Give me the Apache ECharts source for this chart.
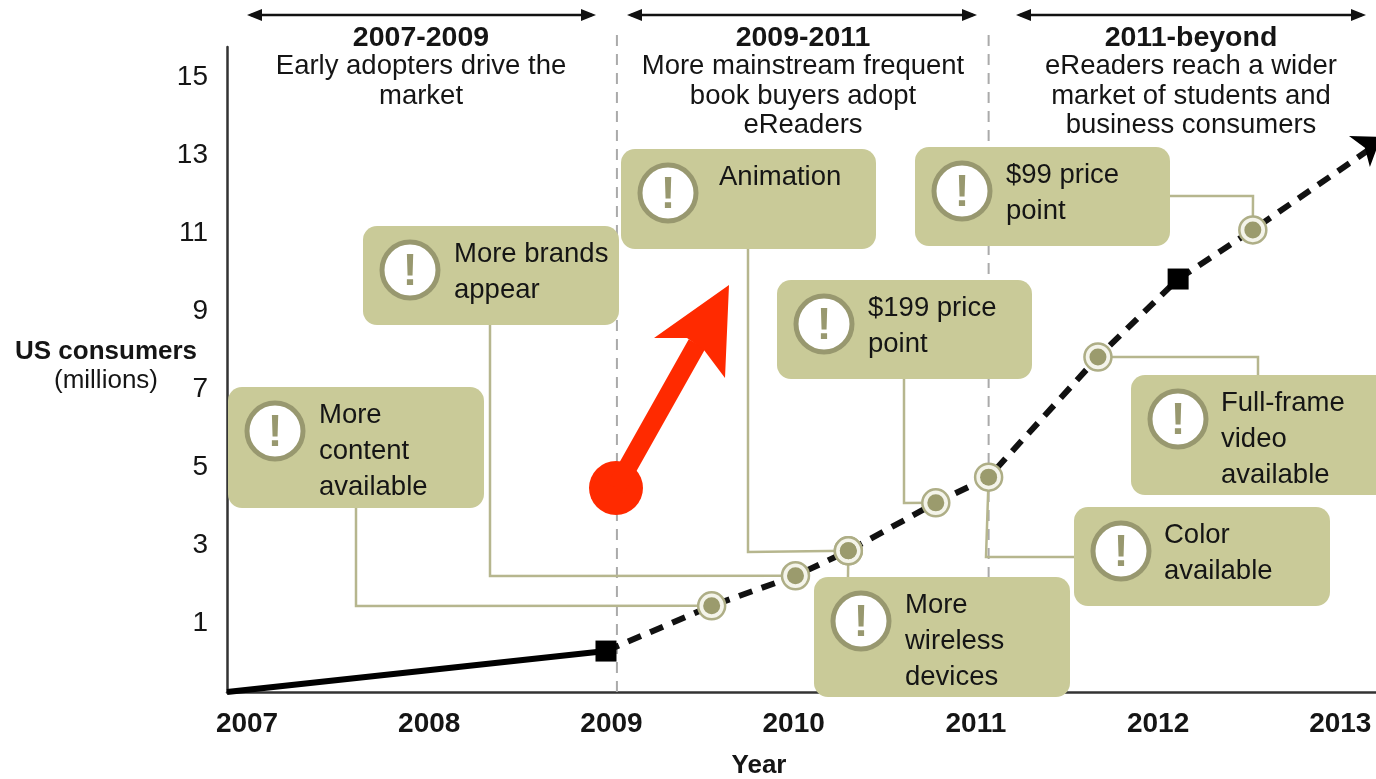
<!DOCTYPE html>
<html>
<head>
<meta charset="utf-8">
<script src="https://cdn.jsdelivr.net/npm/echarts@6/dist/echarts.min.js"></script>
<style>
  html, body { margin: 0; padding: 0; background: #fff; overflow: hidden; }
  #main { width: 1376px; height: 779px; filter: blur(0.6px); }
</style>
</head>
<body>
<div id="main"></div>
<script>
// values, on the printed tick labels
const yearTicks = [2007, 2008, 2009, 2010, 2011, 2012, 2013]
const consumerTicks = [1, 3, 5, 7, 9, 11, 13, 15]

const actualYears = [2006.89, 2008.97]
const actualValues = [-0.77, 0.28]
const forecastYears = [2008.97, 2009.55, 2010.01, 2010.30, 2010.78, 2011.07, 2011.67, 2012.11, 2012.52, 2013.196]
const forecastValues = [0.28, 1.44, 2.21, 2.85, 4.08, 4.74, 7.82, 9.82, 11.08, 13.26]
const squareYears = [2008.97, 2012.11]
const squareValues = [0.28, 9.82]

const milestoneLabels = ['More\ncontent\navailable', 'More brands\nappear', 'Animation', 'More\nwireless\ndevices', '$199 price\npoint', 'Color\navailable', 'Full-frame\nvideo\navailable', '$99 price\npoint']
const milestoneYears = [2009.55, 2010.01, 2010.30, 2010.30, 2010.78, 2011.07, 2011.67, 2012.52]
const milestoneValues = [1.44, 2.21, 2.85, 2.85, 4.08, 4.74, 7.82, 11.08]

const dividerYears = [2009.03, 2011.07]
const phaseTitles = ['2007-2009', '2009-2011', '2011-beyond']
const phaseTexts = ['Early adopters drive the\nmarket', 'More mainstream frequent\nbook buyers adopt\neReaders', 'eReaders reach a wider\nmarket of students and\nbusiness consumers']

// layout of the annotations, pixels
const boxLayout = [
  { x: 228, y: 387, w: 256, h: 121, tx: 91, path: [[356, 508], [356, 606]] },
  { x: 363, y: 226, w: 256, h: 99, tx: 91, path: [[490, 325], [490, 576]] },
  { x: 621, y: 149, w: 255, h: 100, tx: 98, path: [[748, 249], [748, 552]] },
  { x: 814, y: 577, w: 256, h: 120, tx: 91, path: [[848, 577]] },
  { x: 777, y: 280, w: 255, h: 99, tx: 91, path: [[904, 379], [904, 503]] },
  { x: 1074, y: 507, w: 256, h: 99, tx: 90, path: [[1074, 557], [986, 557]] },
  { x: 1131, y: 375, w: 260, h: 120, tx: 90, path: [[1258, 375], [1258, 357]] },
  { x: 915, y: 147, w: 255, h: 99, tx: 91, path: [[1170, 196], [1253, 196]] }
]
const phaseLayout = [
  { x1: 247, x2: 596, cx: 421 },
  { x1: 627, x2: 977, cx: 803 },
  { x1: 1016, x2: 1366, cx: 1191 }
]

const fontName = '"Liberation Sans", sans-serif'
const textColor = '#151515'
const olive = '#c9ca98'
const oliveLine = '#b6b68e'
const oliveDark = '#98986f'

let chart = echarts.init(document.getElementById('main'))

chart.setOption({
  animation: false,
  grid: { left: 227, top: 47, width: 1149, height: 645, outerBoundsMode: 'none' },
  xAxis: {
    type: 'value',
    min: 2006.89,
    max: 2013.196,
    splitLine: { show: false },
    axisTick: { show: false },
    axisLine: { onZero: false, lineStyle: { color: '#333', width: 2.5 } },
    axisLabel: {
      customValues: yearTicks,
      margin: 18,
      color: textColor,
      fontFamily: fontName,
      fontWeight: 'bold',
      fontSize: 28,
      formatter: v => String(v)
    }
  },
  yAxis: {
    type: 'value',
    min: -0.77,
    max: 15.77,
    splitLine: { show: false },
    axisTick: { show: false },
    axisLine: { onZero: false, lineStyle: { color: '#333', width: 2.5 } },
    axisLabel: {
      customValues: consumerTicks,
      margin: 19,
      color: textColor,
      fontFamily: fontName,
      fontSize: 28,
      formatter: v => String(v)
    }
  },
  series: [
    {
      name: 'actual',
      type: 'line',
      z: 3,
      symbol: 'none',
      lineStyle: { color: '#000', width: 6 },
      data: actualYears.map((y, i) => [y, actualValues[i]])
    },
    {
      name: 'forecast',
      type: 'line',
      z: 3,
      symbol: 'none',
      lineStyle: { color: '#111', width: 6, type: [14, 10] },
      data: forecastYears.map((y, i) => [y, forecastValues[i]])
    },
    {
      name: 'squares',
      type: 'scatter',
      z: 4,
      symbol: 'rect',
      symbolSize: 21,
      itemStyle: { color: '#000', opacity: 1 },
      data: squareYears.map((y, i) => [y, squareValues[i]])
    },
    {
      name: 'arrow end',
      type: 'scatter',
      z: 4,
      clip: false,
      symbol: 'arrow',
      symbolSize: [28, 26],
      symbolRotate: -56,
      symbolOffset: [5, -8],
      itemStyle: { color: '#000', opacity: 1 },
      data: [[forecastYears[forecastYears.length - 1], forecastValues[forecastValues.length - 1]]]
    },
    {
      name: 'milestone ring',
      type: 'scatter',
      z: 4,
      symbolSize: 27,
      itemStyle: { color: '#f4f4ea', borderColor: '#aeae86', borderWidth: 2.5, opacity: 1 },
      data: milestoneYears.map((y, i) => [y, milestoneValues[i]])
    },
    {
      name: 'milestone dot',
      type: 'scatter',
      z: 5,
      symbolSize: 17,
      itemStyle: { color: '#9b9b6d', opacity: 1 },
      data: milestoneYears.map((y, i) => [y, milestoneValues[i]])
    }
  ]
})

// annotations go on top, connectors end on the milestone points
const px = (x, y) => chart.convertToPixel({ gridIndex: 0 }, [x, y])
let elements = []

dividerYears.forEach(y => {
  let x = px(y, 0)[0]
  elements.push({
    type: 'line',
    z: 1,
    shape: { x1: x, y1: 35, x2: x, y2: 692 },
    style: { stroke: '#aaa', lineWidth: 2, lineDash: [11, 8] }
  })
})

phaseLayout.forEach((p, i) => {
  elements.push({
    type: 'line', z: 1,
    shape: { x1: p.x1 + 4, y1: 15, x2: p.x2 - 4, y2: 15 },
    style: { stroke: '#111', lineWidth: 2.5 }
  })
  elements.push({
    type: 'polygon', z: 1,
    shape: { points: [[p.x1, 15], [p.x1 + 15, 9], [p.x1 + 15, 21]] },
    style: { fill: '#111' }
  })
  elements.push({
    type: 'polygon', z: 1,
    shape: { points: [[p.x2, 15], [p.x2 - 15, 9], [p.x2 - 15, 21]] },
    style: { fill: '#111' }
  })
  elements.push({
    type: 'text', z: 2,
    style: { x: p.cx, y: 38, text: phaseTitles[i], align: 'center', verticalAlign: 'middle', font: 'bold 28.5px ' + fontName, fill: textColor }
  })
  elements.push({
    type: 'text', z: 2,
    style: { x: p.cx, y: 52, text: phaseTexts[i], align: 'center', verticalAlign: 'top', font: '27.5px ' + fontName, lineHeight: 29.5, fill: textColor }
  })
})

boxLayout.forEach((b, i) => {
  let end = px(milestoneYears[i], milestoneValues[i])
  elements.push({
    type: 'polyline', z: 2,
    shape: { points: b.path.concat([end]) },
    style: { stroke: oliveLine, lineWidth: 2.5, fill: null }
  })
  elements.push({
    type: 'rect', z: 6,
    shape: { x: b.x, y: b.y, width: b.w, height: b.h, r: 14 },
    style: { fill: olive }
  })
  elements.push({
    type: 'circle', z: 7,
    shape: { cx: b.x + 47, cy: b.y + 44, r: 28 },
    style: { fill: '#fff', stroke: oliveDark, lineWidth: 5 }
  })
  elements.push({
    type: 'text', z: 8,
    style: { x: b.x + 47, y: b.y + 47, text: '!', align: 'center', verticalAlign: 'middle', font: 'bold 44px ' + fontName, fill: oliveDark }
  })
  elements.push({
    type: 'text', z: 8,
    style: { x: b.x + b.tx, y: b.y + 10, text: milestoneLabels[i], align: 'left', verticalAlign: 'top', font: '27.5px ' + fontName, lineHeight: 36, fill: textColor }
  })
})

elements.push({
  type: 'text', z: 2,
  style: { x: 106, y: 352, text: 'US consumers', align: 'center', verticalAlign: 'middle', font: 'bold 26px ' + fontName, fill: textColor }
})
elements.push({
  type: 'text', z: 2,
  style: { x: 106, y: 381, text: '(millions)', align: 'center', verticalAlign: 'middle', font: '26px ' + fontName, fill: textColor }
})
elements.push({
  type: 'text', z: 2,
  style: { x: 759, y: 766, text: 'Year', align: 'center', verticalAlign: 'middle', font: 'bold 26px ' + fontName, fill: textColor }
})

// red arrow drawn over the chart
const red = '#ff2a00'
elements.push({ type: 'circle', z: 9, shape: { cx: 616, cy: 488, r: 27 }, style: { fill: red } })
elements.push({ type: 'line', z: 9, shape: { x1: 616, y1: 488, x2: 697, y2: 344 }, style: { stroke: red, lineWidth: 19 } })
elements.push({
  type: 'polygon', z: 9,
  shape: { points: [[729, 285], [725, 378], [704, 350], [687, 338], [654, 338]] },
  style: { fill: red }
})

chart.setOption({ graphic: { elements: elements } })
</script>
</body>
</html>
